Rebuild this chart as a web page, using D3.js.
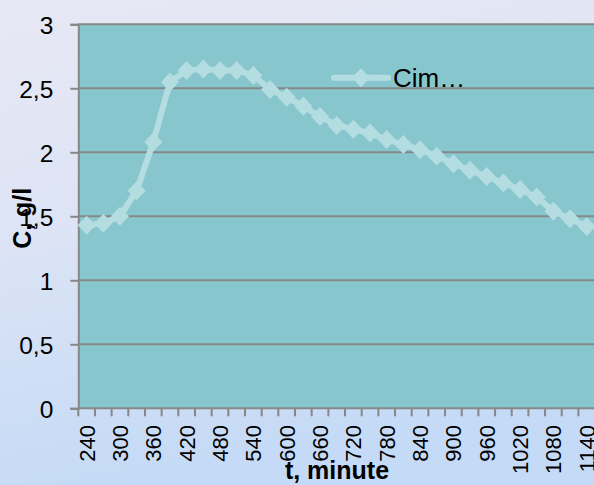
<!DOCTYPE html>
<html>
<head>
<meta charset="utf-8">
<script src="https://cdn.jsdelivr.net/npm/d3@7"></script>
<style>
  html, body { margin: 0; padding: 0; overflow: hidden; }
  svg { display: block; }
  text { font-family: "Liberation Sans", Arial, sans-serif; fill: #000; }
</style>
</head>
<body>
<svg id="chart" width="594" height="485"></svg>
<script>
// Time points (minutes) and measured concentration
const categories = [240, 270, 300, 330, 360, 390, 420, 450, 480, 510, 540, 570, 600, 630, 660,
  690, 720, 750, 780, 810, 840, 870, 900, 930, 960, 990, 1020, 1050, 1080, 1110, 1140];
const concentration = [1.43, 1.445, 1.50, 1.70, 2.08, 2.55, 2.64, 2.65, 2.64, 2.64, 2.60, 2.49, 2.43, 2.36, 2.28,
  2.21, 2.18, 2.15, 2.10, 2.06, 2.02, 1.97, 1.91, 1.86, 1.81, 1.76, 1.71, 1.65, 1.54, 1.48, 1.42];
const seriesName = "Cim…";

const yTickValues = [0, 0.5, 1, 1.5, 2, 2.5, 3];
const yTickLabels = ["0", "0,5", "1", "1,5", "2", "2,5", "3"];
const xTickLabels = ["240", "300", "360", "420", "480", "540", "600", "660", "720", "780",
  "840", "900", "960", "1020", "1080", "1140"];
const xTitle = "t, minute";
const yTitle = "C, g/l";

const W = 594, H = 485;
const plot = { left: 78.3, top: 24.3, bottom: 408.3 };
const bandW = 16.67;
const lineColor = "#b4dde1";
const gridColor = "#878787";

const svg = d3.select("#chart");

// background
const defs = svg.append("defs");
const bg = defs.append("linearGradient").attr("id", "bg")
  .attr("x1", 0).attr("y1", 0).attr("x2", 0.25).attr("y2", 1);
bg.append("stop").attr("offset", 0).attr("stop-color", "#e8e8f4");
bg.append("stop").attr("offset", 0.45).attr("stop-color", "#dde4f5");
bg.append("stop").attr("offset", 1).attr("stop-color", "#c4daf6");
svg.append("rect").attr("width", W).attr("height", H).attr("fill", "url(#bg)");

// scales
const x = d3.scaleBand()
  .domain(categories.map(String))
  .range([plot.left, plot.left + bandW * categories.length])
  .padding(0);
const y = d3.scaleLinear().domain([0, 3]).range([plot.bottom, plot.top]);
const plotRight = x.range()[1];

// plot area
svg.append("rect")
  .attr("x", plot.left).attr("y", plot.top)
  .attr("width", plotRight - plot.left).attr("height", plot.bottom - plot.top)
  .attr("fill", "#88c6ce");

// horizontal gridlines
svg.append("g").selectAll("line")
  .data(yTickValues.filter(v => v > 0))
  .join("line")
  .attr("x1", plot.left).attr("x2", plotRight)
  .attr("y1", d => y(d)).attr("y2", d => y(d))
  .attr("stroke", gridColor).attr("stroke-width", 2);

// y axis
const yAxis = d3.axisLeft(y)
  .tickValues(yTickValues)
  .tickFormat((d, i) => yTickLabels[i])
  .tickSize(8)
  .tickPadding(17);
const gy = svg.append("g").attr("transform", `translate(${plot.left},0)`).call(yAxis);
gy.select(".domain").attr("stroke", gridColor).attr("stroke-width", 2);
gy.selectAll(".tick line").attr("stroke", gridColor).attr("stroke-width", 2);
gy.selectAll(".tick text").attr("font-size", 24.5).attr("dy", "0.36em")
  .style("font-family", '"Liberation Sans", Arial, sans-serif');

// x axis: tick marks on band boundaries, labels on every other category
const gx = svg.append("g");
gx.append("line")
  .attr("x1", plot.left).attr("x2", plotRight)
  .attr("y1", plot.bottom).attr("y2", plot.bottom)
  .attr("stroke", gridColor).attr("stroke-width", 2);
gx.selectAll("line.tick")
  .data(categories)
  .join("line").attr("class", "tick")
  .attr("x1", d => x(String(d))).attr("x2", d => x(String(d)))
  .attr("y1", plot.bottom).attr("y2", plot.bottom + 8)
  .attr("stroke", gridColor).attr("stroke-width", 2);
gx.selectAll("text")
  .data(xTickLabels)
  .join("text")
  .attr("transform", d => `translate(${x(d) + x.bandwidth() / 2},425) rotate(-90)`)
  .attr("text-anchor", "end")
  .attr("dy", "0.36em")
  .attr("font-size", 22)
  .text(d => d);

// series line and markers
const pts = categories.map((c, i) => ({ c: String(c), v: concentration[i] }));
const line = d3.line()
  .x(d => x(d.c) + x.bandwidth() / 2)
  .y(d => y(d.v));
svg.append("path")
  .datum(pts)
  .attr("d", line)
  .attr("fill", "none")
  .attr("stroke", lineColor)
  .attr("stroke-width", 6)
  .attr("stroke-linejoin", "round");

const diamond = "M0,-9.5L9,0L0,9.5L-9,0Z";
svg.append("g").selectAll("path")
  .data(pts)
  .join("path")
  .attr("transform", d => `translate(${x(d.c) + x.bandwidth() / 2},${y(d.v)})`)
  .attr("d", diamond)
  .attr("fill", lineColor);

// legend
const lg = svg.append("g");
lg.append("line")
  .attr("x1", 334).attr("x2", 388).attr("y1", 77.7).attr("y2", 77.7)
  .attr("stroke", lineColor).attr("stroke-width", 6).attr("stroke-linecap", "round");
lg.append("path").attr("transform", "translate(361,77.7)").attr("d", diamond).attr("fill", lineColor);
lg.append("text").attr("x", 393).attr("y", 87).attr("font-size", 26).text(seriesName);

// axis titles
svg.append("text")
  .attr("transform", `translate(31,${(plot.top + plot.bottom) / 2 + 2}) rotate(-90)`)
  .attr("text-anchor", "middle")
  .attr("font-size", 25).attr("font-weight", "bold")
  .text(yTitle);
svg.append("text")
  .attr("x", 337).attr("y", 479)
  .attr("text-anchor", "middle")
  .attr("font-size", 25).attr("font-weight", "bold")
  .text(xTitle);
</script>
</body>
</html>
